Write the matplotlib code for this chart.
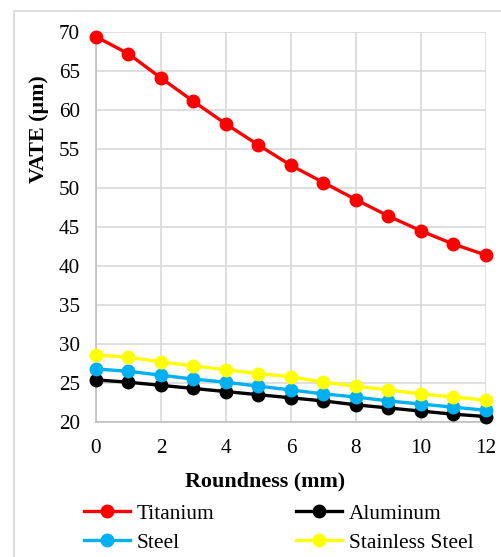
import matplotlib.pyplot as plt
from matplotlib.patches import Rectangle

# Data
roundness = [0, 1, 2, 3, 4, 5, 6, 7, 8, 9, 10, 11, 12]
titanium = [69.4, 67.2, 64.1, 61.1, 58.2, 55.5, 52.9, 50.7, 48.5, 46.4, 44.5, 42.8, 41.4]
aluminum = [25.4, 25.1, 24.7, 24.3, 23.9, 23.5, 23.1, 22.7, 22.2, 21.8, 21.4, 21.0, 20.7]
steel = [26.8, 26.5, 26.0, 25.5, 25.1, 24.6, 24.1, 23.6, 23.2, 22.7, 22.3, 21.9, 21.5]
stainless = [28.6, 28.3, 27.7, 27.2, 26.7, 26.2, 25.8, 25.1, 24.6, 24.1, 23.6, 23.2, 22.8]

series = [("Titanium", titanium, "#FF0000"),
          ("Aluminum", aluminum, "#000000"),
          ("Steel", steel, "#00B0F0"),
          ("Stainless Steel", stainless, "#FFFF00")]

plt.rcParams['font.family'] = ['Liberation Serif', 'DejaVu Serif']

W, H = 502, 557
fig = plt.figure(figsize=(W / 100, H / 100), dpi=100)

# chart area border
fig.patches.append(Rectangle((14 / W, -0.05), 1.2, 1 - 11 / H + 0.05,
                             transform=fig.transFigure, fill=False,
                             edgecolor='#d9d9d9', linewidth=1.2))

ax = fig.add_axes([96 / W, 1 - 422 / H, (486 - 96) / W, (422 - 32) / H])

lines = {}
for name, vals, col in series:
    lines[name], = ax.plot(roundness, vals, color=col, linewidth=2.4, marker='o',
                           markersize=9, label=name, clip_on=False, zorder=3)

ax.set_xlim(0, 12)
ax.set_ylim(20, 70)
ax.set_xticks(range(0, 13, 2))
ax.set_yticks(range(20, 71, 5))
ax.grid(True, color='#d9d9d9', linewidth=1.2)
ax.set_axisbelow(True)
for s in ['top', 'right']:
    ax.spines[s].set_visible(False)
for s in ['left', 'bottom']:
    ax.spines[s].set_color('#bfbfbf')
    ax.spines[s].set_linewidth(1.2)
ax.tick_params(axis='both', length=0, labelsize=15.2, colors='#000000')
ax.tick_params(axis='x', pad=12.5)
ax.tick_params(axis='y', pad=11.5)

fig.text(39 / W, 1 - 129 / H, 'VATE (µm)', rotation=90, ha='center',
         va='center', fontsize=15.8, fontweight='bold')
fig.text(265 / W, 1 - 481 / H, 'Roundness (mm)', ha='center',
         va='center', fontsize=15.8, fontweight='bold')

# legend filled row by row: Titanium, Aluminum / Steel, Stainless Steel
order = ["Titanium", "Steel", "Aluminum", "Stainless Steel"]
fig.legend([lines[n] for n in order], order, loc='upper left',
           bbox_to_anchor=(84 / W, 1 - 504 / H), ncol=2,
           frameon=False, fontsize=15.4, handlelength=2.15, handletextpad=0.33,
           columnspacing=3.8, labelspacing=0.42, borderpad=0, borderaxespad=0)

fig.savefig('out.png', dpi=100)
